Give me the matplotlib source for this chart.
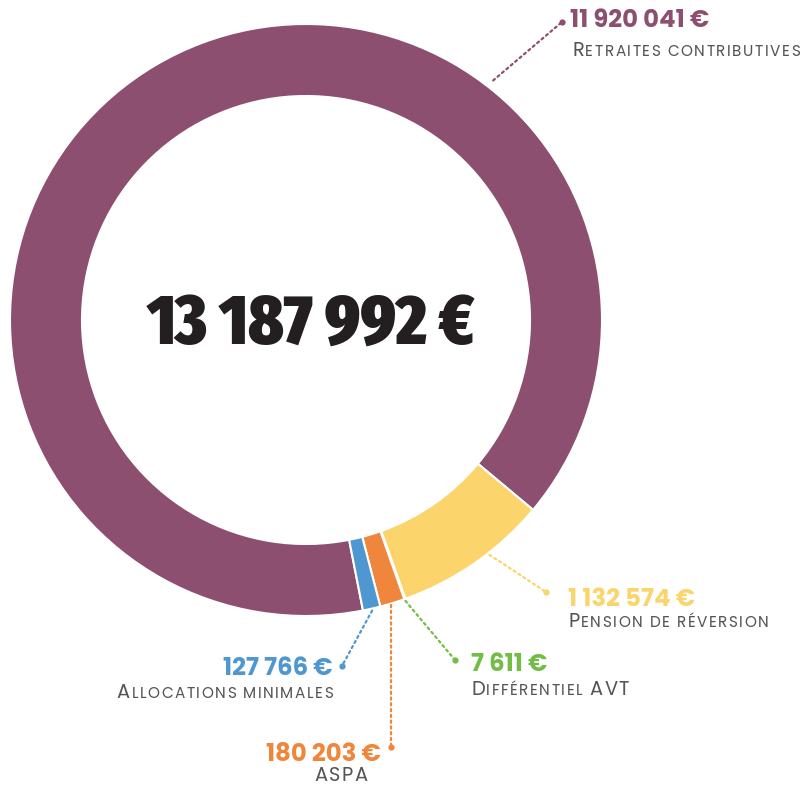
import matplotlib
matplotlib.use("Agg")
import matplotlib.pyplot as plt
from matplotlib import font_manager as fm
import numpy as np

# data
labels = ["Retraites contributives", "Pension de réversion", "Différentiel AVT",
          "ASPA", "Allocations minimales"]
values = [11920041, 1132574, 7611, 180203, 127766]
value_text = ["11 920 041 €", "1 132 574 €", "7 611 €", "180 203 €", "127 766 €"]
total_text = "13 187 992 €"
colors = ["#8d4f6f", "#fbd56b", "#72bd45", "#f0853c", "#4f97d1"]

GREY = "#555555"
W, H = 805, 785


def pick_sans():
    # use a geometric sans that has real static bold + regular files
    have = {}
    for f in fm.fontManager.ttflist:
        have.setdefault(f.name, set()).add(f.weight)
    for name in ["Montserrat", "Poppins"]:
        ws = have.get(name, set())
        if 700 in ws and 400 in ws:
            return [name, "Open Sans", "DejaVu Sans"]
    return ["Open Sans", "DejaVu Sans"]


SANS = pick_sans()
BIG = ["Fira Sans Extra Condensed", "Liberation Sans Narrow", "DejaVu Sans"]

fig = plt.figure(figsize=(W / 100, H / 100), dpi=100)
ax = fig.add_axes([0, 0, 1, 1])

cx, cy, R = 306, H - 320, 296
wedges, _ = ax.pie(values, colors=colors, center=(cx, cy), radius=R,
                   startangle=-78.9, counterclock=False,
                   wedgeprops=dict(width=72, edgecolor="white", linewidth=1.5))
ax.set_xlim(0, W)
ax.set_ylim(0, H)
ax.set_aspect("equal")
ax.axis("off")

ax.text(311, H - 344, total_text, ha="center", va="baseline", fontsize=51,
        fontweight="black", family=BIG, color="#231f20")

renderer = fig.canvas.get_renderer()
_adv = {}


def text_w(s, size):
    t = ax.text(0, 0, s, fontsize=size, family=SANS)
    w = t.get_window_extent(renderer).width
    t.remove()
    return w


def advance(ch, size):
    # glyph advance = width("H?H") - width("HH")
    key = (ch, size)
    if key not in _adv:
        _adv[key] = text_w("H" + ch + "H", size) - text_w("HH", size)
    return _adv[key]


def smallcaps(x, y, s, ha="left", big=14, small=11, track=1.5, color=GREY):
    # fake small caps, one glyph at a time so we can add letter spacing
    pieces = []
    for ch in s:
        size = big if ch.isupper() else small
        c = ch.upper()
        t = None
        if ch != " ":
            t = ax.text(0, y, c, fontsize=size, family=SANS,
                        color=color, va="baseline")
        pieces.append([t, advance(c, size) + track])
    total = sum(p[1] for p in pieces) - track
    if ha == "right":
        x0 = x - total
    elif ha == "center":
        x0 = x - total / 2
    else:
        x0 = x
    for t, adv in pieces:
        if t is not None:
            t.set_x(x0)
        x0 += adv


def leader(p0, p1, color):
    ax.plot([p0[0], p1[0]], [p0[1], p1[1]], color=color, lw=1.6,
            linestyle=(0, (1, 1.6)), solid_capstyle="round",
            dash_capstyle="round")
    ax.plot([p1[0]], [p1[1]], "o", color=color, ms=4.5, mec="none")


def edge_point(w, ang=None, r=R + 2):
    if ang is None:
        ang = (w.theta1 + w.theta2) / 2
    a = np.deg2rad(ang)
    return (cx + r * np.cos(a), cy + r * np.sin(a))


# label layout: (end of leader, value text position, ha)
ends = [(562, H - 22), (546, H - 592), (455, H - 660), (391, H - 747), (342, H - 666)]
val_pos = [(570, H - 27, "left"), (568, H - 606, "left"), (471, H - 671, "left"),
           (381, H - 761, "right"), (333, H - 675, "right")]
lab_pos = [(572, H - 56, "left"), (568, H - 627, "left"), (471, H - 695, "left"),
           (341, H - 781, "center"), (333, H - 698, "right")]
starts = [edge_point(wedges[0], 52, R + 8), edge_point(wedges[1], -52),
          edge_point(wedges[2]), edge_point(wedges[3]), edge_point(wedges[4])]

for i in range(len(values)):
    p0 = starts[i]
    p1 = ends[i]
    if i == 3:
        p0 = (p1[0], p0[1])
    leader(p0, p1, colors[i])
    vx, vy, ha = val_pos[i]
    ax.text(vx, vy, value_text[i], ha=ha, va="baseline", fontsize=17.5,
            fontweight="bold", family=SANS, color=colors[i])
    lx, ly, lha = lab_pos[i]
    smallcaps(lx, ly, labels[i], lha)

fig.savefig("out.png", dpi=100, facecolor="white")
